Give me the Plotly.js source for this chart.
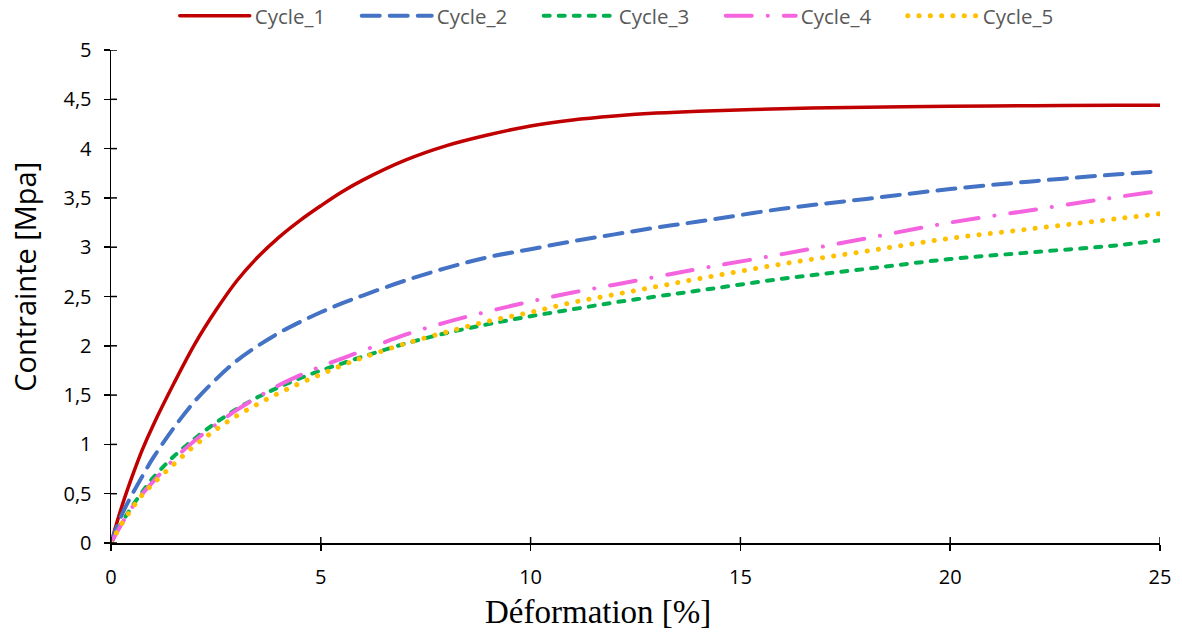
<!DOCTYPE html>
<html>
<head>
<meta charset="utf-8">
<script src="https://cdn.plot.ly/plotly-3.0.1.min.js"></script>
<style>
  html, body { margin: 0; padding: 0; background: #fff; }
  #chart { width: 1182px; height: 639px; }
  #chart .js-line { stroke-linecap: round; }
</style>
</head>
<body>
<div id="chart"></div>
<script>
// Strain values (%) shared by all cycles
const strain = [0, 0.25, 0.5, 0.75, 1, 1.5, 2, 2.5, 3, 3.5, 4, 4.5, 5, 5.5, 6, 7, 8, 9, 10, 11, 12, 13, 14, 16, 18, 20, 22, 24, 25];

// Stress values (MPa) per cycle
const cycle1 = [0, 0.36, 0.67, 0.95, 1.19, 1.62, 2.02, 2.36, 2.66, 2.90, 3.10, 3.27, 3.42, 3.56, 3.68, 3.88, 4.03, 4.14, 4.23, 4.29, 4.33, 4.36, 4.38, 4.405, 4.42, 4.43, 4.435, 4.44, 4.44];
const cycle2 = [0, 0.28, 0.49, 0.68, 0.86, 1.17, 1.44, 1.66, 1.85, 2.00, 2.13, 2.24, 2.34, 2.43, 2.51, 2.66, 2.79, 2.90, 2.98, 3.06, 3.13, 3.20, 3.26, 3.39, 3.49, 3.59, 3.67, 3.74, 3.77];
const cycle3 = [0, 0.20, 0.37, 0.52, 0.66, 0.88, 1.06, 1.22, 1.36, 1.48, 1.58, 1.67, 1.75, 1.82, 1.89, 2.02, 2.13, 2.22, 2.30, 2.37, 2.44, 2.50, 2.56, 2.68, 2.78, 2.88, 2.95, 3.02, 3.07];
const cycle4 = [0, 0.19, 0.36, 0.50, 0.62, 0.85, 1.04, 1.20, 1.35, 1.48, 1.60, 1.70, 1.79, 1.87, 1.95, 2.11, 2.24, 2.35, 2.45, 2.54, 2.62, 2.70, 2.78, 2.93, 3.09, 3.25, 3.38, 3.51, 3.57];
const cycle5 = [0, 0.19, 0.35, 0.49, 0.60, 0.80, 0.99, 1.15, 1.29, 1.41, 1.52, 1.62, 1.71, 1.80, 1.88, 2.02, 2.14, 2.25, 2.34, 2.44, 2.52, 2.60, 2.68, 2.83, 2.96, 3.09, 3.19, 3.29, 3.34];

// Axis tick values
const xTicks = [0, 5, 10, 15, 20, 25];
const yTicks = [0, 0.5, 1, 1.5, 2, 2.5, 3, 3.5, 4, 4.5, 5];

const seriesNames = ["Cycle_1", "Cycle_2", "Cycle_3", "Cycle_4", "Cycle_5"];
const seriesData = [cycle1, cycle2, cycle3, cycle4, cycle5];
const seriesColors = ["#C00000", "#4472C4", "#00B050", "#F564DF", "#FFC000"];
const seriesDash = ["solid", "18px,10px", "6px,9px", "26px,16px,0.1px,16px", "0.1px,11.2px"];
const seriesWidth = [3.5, 4, 4, 4, 5];

const xTitle = "Déformation [%]";
const yTitle = "Contrainte [Mpa]";

const traces = seriesNames.map((name, i) => ({
  type: "scatter",
  mode: "lines",
  name: name,
  x: strain,
  y: seriesData[i],
  line: { color: seriesColors[i], width: seriesWidth[i], dash: seriesDash[i], shape: "spline", smoothing: 1 },
  hoverinfo: "skip"
}));

// inner half of the crossing tick marks (the outer half is drawn by the axes)
const tickShapes = [];
yTicks.forEach(v => tickShapes.push({
  type: "line", xref: "x", yref: "y", xsizemode: "pixel", xanchor: 0,
  x0: 0, x1: 6, y0: v, y1: v, line: { color: "#000000", width: 1.5 }, layer: "above"
}));
xTicks.forEach(v => tickShapes.push({
  type: "line", xref: "x", yref: "y", ysizemode: "pixel", yanchor: 0,
  y0: 0, y1: 6, x0: v, x1: v, line: { color: "#000000", width: 1.5 }, layer: "above"
}));

const sansFont = "'Open Sans', Lato, sans-serif";

const layout = {
  width: 1182,
  height: 639,
  margin: { l: 111, r: 22, t: 50, b: 96, autoexpand: false },
  paper_bgcolor: "#ffffff",
  plot_bgcolor: "#ffffff",
  separators: ", ",
  showlegend: true,
  legend: {
    orientation: "h",
    x: 0.4945,
    xanchor: "center",
    yref: "paper",
    y: 1.069,
    yanchor: "middle",
    font: { family: sansFont, size: 20.5, color: "#595959" },
    itemwidth: 70,
    entrywidth: 97,
    traceorder: "normal",
    bgcolor: "rgba(0,0,0,0)"
  },
  xaxis: {
    range: [0, 25],
    tickvals: xTicks,
    showgrid: false,
    zeroline: false,
    showline: true,
    linecolor: "#000000",
    linewidth: 1.5,
    ticks: "outside",
    ticklen: 6,
    tickwidth: 1.5,
    tickcolor: "#000000",
    ticklabelstandoff: 9,
    tickfont: { family: sansFont, size: 20, color: "#000000" },
    automargin: false,
    fixedrange: true
  },
  yaxis: {
    range: [0, 5],
    tickvals: yTicks,
    showgrid: false,
    zeroline: false,
    showline: true,
    linecolor: "#000000",
    linewidth: 1.5,
    ticks: "outside",
    ticklen: 6,
    tickwidth: 1.5,
    tickcolor: "#000000",
    ticklabelstandoff: 8,
    tickfont: { family: sansFont, size: 20, color: "#000000" },
    automargin: false,
    fixedrange: true
  },
  shapes: tickShapes,
  annotations: [
    {
      text: yTitle,
      xref: "paper", yref: "paper",
      x: -0.082, y: 0.54,
      xanchor: "center", yanchor: "middle",
      textangle: -90,
      showarrow: false,
      font: { family: sansFont, size: 29, color: "#000000" }
    },
    {
      text: xTitle,
      xref: "paper", yref: "paper",
      x: 0.4643, y: -0.14,
      xanchor: "center", yanchor: "middle",
      showarrow: false,
      font: { family: "'Liberation Serif', 'DejaVu Serif', serif", size: 33, color: "#000000" }
    }
  ]
};

Plotly.newPlot("chart", traces, layout, { displayModeBar: false, staticPlot: true });
</script>
</body>
</html>
